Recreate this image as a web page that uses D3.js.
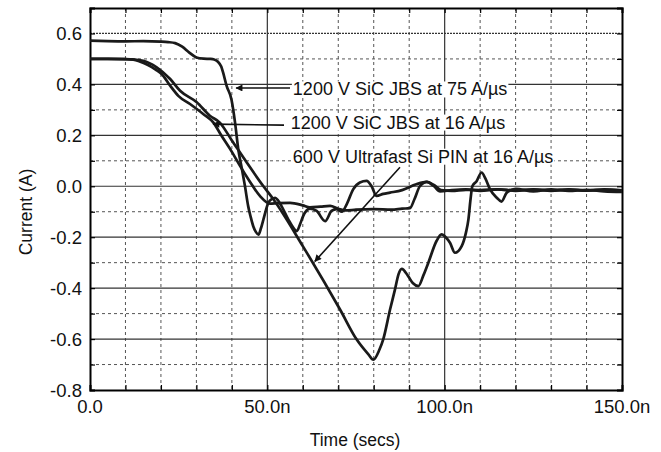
<!DOCTYPE html>
<html><head><meta charset="utf-8">
<script src="https://cdn.jsdelivr.net/npm/d3@7"></script>
<style>
html,body{margin:0;padding:0;background:#fff;}
svg{display:block;font-family:"Liberation Sans",Arial,Helvetica,sans-serif;}
</style></head>
<body><svg id="c" width="661" height="452"></svg>
<script>
// ---- data (time in ns, current in A) ----
const xTicks = [0, 50, 100, 150];
const xTickLabels = ["0.0", "50.0n", "100.0n", "150.0n"];
const yTicks = [-0.8, -0.6, -0.4, -0.2, 0.0, 0.2, 0.4, 0.6];
const yTickLabels = ["-0.8", "-0.6", "-0.4", "-0.2", "0.0", "0.2", "0.4", "0.6"];
const xLabel = "Time (secs)";
const yLabel = "Current (A)";

// 1200 V SiC JBS at 75 A/us
const jbs75Time = [0, 5, 10, 15, 20, 22, 24, 26, 28, 30, 32, 34, 35, 36, 37, 37.5, 38.5, 39.9, 40.9, 41.8, 42.8, 43.7, 44.6, 45.3, 46, 46.8, 47.5, 48.2, 48.9, 50.3, 51.3, 52.2, 53, 54, 55.9, 57.2, 58.3, 59.2, 60.1, 62, 63.9, 66.3, 68.1, 69.5, 71, 72.4, 74.2, 76.1, 78, 79.4, 80.8, 82.7, 84.6, 88, 92, 95, 97, 98.7, 102, 106, 110, 115, 120, 125, 130, 135, 140, 145, 150];
const jbs75Current = [0.572, 0.570, 0.569, 0.570, 0.568, 0.566, 0.562, 0.548, 0.525, 0.506, 0.501, 0.500, 0.498, 0.490, 0.470, 0.448, 0.395, 0.340, 0.250, 0.146, 0.070, 0.000, -0.078, -0.120, -0.156, -0.180, -0.190, -0.165, -0.130, -0.064, -0.050, -0.045, -0.055, -0.078, -0.130, -0.160, -0.176, -0.150, -0.117, -0.088, -0.097, -0.137, -0.097, -0.090, -0.100, -0.070, -0.012, 0.015, 0.021, 0.000, -0.038, -0.030, -0.025, -0.015, 0.008, 0.017, 0.000, -0.020, -0.015, -0.012, -0.018, -0.012, -0.016, -0.012, -0.018, -0.013, -0.017, -0.012, -0.016];

// 1200 V SiC JBS at 16 A/us
const jbs16Time = [0, 5, 10, 12.2, 14, 16.5, 18.5, 20.2, 22.6, 24.9, 28.2, 32, 34.8, 37, 40, 42.3, 45, 47.9, 50.7, 53, 56.4, 60, 62, 65, 67.7, 70, 72, 75, 80, 85, 88, 90.2, 91.5, 93, 95, 97, 99, 102, 106, 110, 115, 120, 125, 130, 135, 140, 145, 150];
const jbs16Current = [0.500, 0.500, 0.499, 0.497, 0.490, 0.475, 0.458, 0.441, 0.395, 0.355, 0.323, 0.283, 0.250, 0.200, 0.135, 0.080, 0.020, -0.038, -0.068, -0.066, -0.065, -0.075, -0.083, -0.080, -0.077, -0.088, -0.095, -0.092, -0.090, -0.092, -0.088, -0.086, -0.050, 0.000, 0.017, 0.005, -0.015, -0.018, -0.014, -0.015, -0.012, -0.018, -0.013, -0.016, -0.012, -0.017, -0.014, -0.018];

// 600 V Ultrafast Si PIN at 16 A/us
const pinTime = [0, 5, 10, 12, 15, 18.8, 22.6, 25.4, 30.1, 33.8, 36.6, 40, 44.2, 48.9, 51.7, 60, 70.5, 75.2, 78.5, 79.9, 81.5, 82.7, 84.6, 86, 87, 87.9, 89.7, 91, 92.6, 94, 95.4, 97.7, 99.1, 100.3, 101.5, 102.9, 104.8, 106, 106.7, 107.3, 107.8, 109, 110.4, 111.5, 112.8, 114.7, 116, 117.5, 120, 125, 130, 135, 140, 145, 150];
const pinCurrent = [0.500, 0.500, 0.499, 0.498, 0.493, 0.467, 0.421, 0.375, 0.330, 0.277, 0.250, 0.180, 0.093, 0.000, -0.051, -0.235, -0.484, -0.602, -0.660, -0.681, -0.645, -0.600, -0.484, -0.405, -0.345, -0.324, -0.353, -0.380, -0.392, -0.350, -0.300, -0.215, -0.189, -0.200, -0.222, -0.261, -0.235, -0.182, -0.130, -0.050, 0.000, 0.020, 0.054, 0.030, -0.012, -0.045, -0.060, -0.025, -0.010, -0.020, -0.012, -0.018, -0.014, -0.020, -0.022];

const annotations = [
  {text: "1200 V SiC JBS at 75 A/\u00b5s", tx: 57.2, ty: 0.382, x1: 56.4, y1: 0.386, x2: 41.2, y2: 0.386},
  {text: "1200 V SiC JBS at 16 A/\u00b5s", tx: 56.6, ty: 0.252, x1: 54.7, y1: 0.240, x2: 34.7, y2: 0.244},
  {text: "600 V Ultrafast Si PIN at 16 A/\u00b5s", tx: 57.2, ty: 0.118, x1: 87.4, y1: 0.075, x2: 63.4, y2: -0.295}
];

// ---- drawing ----
const svg = d3.select("#c");
const W = 661, H = 452;
const m = {top: 8, right: 39, bottom: 62, left: 90};
const x = d3.scaleLinear().domain([0, 150]).range([m.left, W - m.right]);
const y = d3.scaleLinear().domain([-0.8, 0.7]).range([H - m.bottom, m.top]);

svg.append("rect").attr("width", W).attr("height", H).attr("fill", "#fff");

const grid = svg.append("g");
const minorX = d3.range(10, 150, 10).filter(v => v % 50 !== 0);
const minorY = d3.range(-7, 7, 2).map(v => v / 10);
grid.selectAll(".mx").data(minorX).join("line")
  .attr("x1", d => x(d)).attr("x2", d => x(d)).attr("y1", y(0.7)).attr("y2", y(-0.8))
  .attr("stroke", "#555").attr("stroke-width", 1).attr("stroke-dasharray", "3,3");
grid.selectAll(".my").data(minorY).join("line")
  .attr("y1", d => y(d)).attr("y2", d => y(d)).attr("x1", x(0)).attr("x2", x(150))
  .attr("stroke", "#555").attr("stroke-width", 1).attr("stroke-dasharray", "3,3");
grid.selectAll(".Mx").data(xTicks.filter(v => v > 0 && v < 150)).join("line")
  .attr("x1", d => x(d)).attr("x2", d => x(d)).attr("y1", y(0.7)).attr("y2", y(-0.8))
  .attr("stroke", "#333").attr("stroke-width", 1.2);
grid.selectAll(".My").data(yTicks.filter(v => v > -0.8)).join("line")
  .attr("y1", d => y(d)).attr("y2", d => y(d)).attr("x1", x(0)).attr("x2", x(150))
  .attr("stroke", "#333").attr("stroke-width", 1.2)
  .attr("stroke-dasharray", d => d > 0.5 ? "2,1" : null);

// axes with inward ticks
const minorTX = d3.range(0, 151, 10);
const minorTY = d3.range(-8, 8, 1).map(v => v / 10);
const axB = svg.append("g").attr("transform", `translate(0,${y(-0.8)})`)
  .call(d3.axisBottom(x).tickValues(minorTX).tickSize(-5).tickFormat(""));
const axT = svg.append("g").attr("transform", `translate(0,${y(0.7)})`)
  .call(d3.axisTop(x).tickValues(minorTX).tickSize(-5).tickFormat(""));
const axL = svg.append("g").attr("transform", `translate(${x(0)},0)`)
  .call(d3.axisLeft(y).tickValues(minorTY).tickSize(-5).tickFormat(""));
const axR = svg.append("g").attr("transform", `translate(${x(150)},0)`)
  .call(d3.axisRight(y).tickValues(minorTY).tickSize(-5).tickFormat(""));
[axB, axT, axL, axR].forEach(a => {
  a.select(".domain").attr("stroke", "#000").attr("stroke-width", 2);
  a.selectAll(".tick line").attr("stroke", "#000").attr("stroke-width", 1.2);
});

// tick labels
svg.append("g").selectAll("text").data(xTicks).join("text")
  .attr("x", d => x(d)).attr("y", 413).attr("text-anchor", "middle")
  .attr("font-size", 18.5).attr("fill", "#111")
  .text((d, i) => xTickLabels[i]);
svg.append("g").selectAll("text").data(yTicks).join("text")
  .attr("x", 82).attr("y", d => y(d)).attr("dy", "0.36em").attr("text-anchor", "end")
  .attr("font-size", 18.5).attr("fill", "#111")
  .text((d, i) => yTickLabels[i]);
svg.append("text").attr("x", 355).attr("y", 446).attr("text-anchor", "middle")
  .attr("font-size", 17.5).attr("fill", "#111").text(xLabel);
svg.append("text").attr("transform", "translate(32,212) rotate(-90)")
  .attr("text-anchor", "middle").attr("font-size", 17.5).attr("fill", "#111").text(yLabel);

// curves
const line = d3.line().x(d => x(d[0])).y(d => y(d[1])).curve(d3.curveMonotoneX);
const series = [
  [jbs75Time, jbs75Current],
  [jbs16Time, jbs16Current],
  [pinTime, pinCurrent]
];
const plot = svg.append("g");
series.forEach(([t, v]) => {
  plot.append("path").datum(t.map((tt, i) => [tt, v[i]]))
    .attr("d", line).attr("fill", "none").attr("stroke", "#1a1a1a")
    .attr("stroke-width", 2.7).attr("stroke-linejoin", "round");
});

// annotations
svg.append("defs").append("marker").attr("id", "ah").attr("viewBox", "0 0 10 10")
  .attr("refX", 9).attr("refY", 5).attr("markerWidth", 9).attr("markerHeight", 7)
  .attr("markerUnits", "userSpaceOnUse").attr("orient", "auto")
  .append("path").attr("d", "M0,0 L10,5 L0,10 z").attr("fill", "#111");
const ann = svg.append("g");
annotations.forEach(a => {
  const t = ann.append("text").attr("x", x(a.tx)).attr("y", y(a.ty)).attr("dy", "0.36em")
    .attr("font-size", 18).attr("fill", "#111").text(a.text);
  const bb = t.node().getBBox();
  ann.insert("rect", "text").attr("x", bb.x - 1).attr("y", bb.y + 2).attr("width", bb.width + 2)
    .attr("height", bb.height - 4).attr("fill", "#fff");
  ann.append("line").attr("x1", x(a.x1)).attr("y1", y(a.y1)).attr("x2", x(a.x2)).attr("y2", y(a.y2))
    .attr("stroke", "#111").attr("stroke-width", 1.6).attr("marker-end", "url(#ah)");
});
</script></body></html>
